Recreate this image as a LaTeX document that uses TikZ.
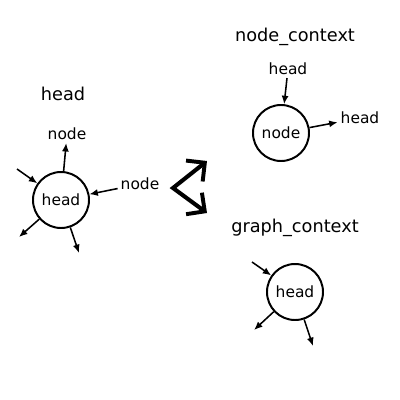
\documentclass[tikz,border=0pt]{standalone}
\usepackage{fontspec}
\setmainfont{DejaVu Sans}
\usetikzlibrary{arrows.meta,positioning}
\definecolor{dark}{HTML}{000000}
\tikzset{
  vertex/.style={circle, draw=dark, line width=1.4pt, minimum size=14mm, inner sep=0pt, font=\fontsize{11}{13}\selectfont},
  label/.style={inner sep=2pt, font=\fontsize{11}{13}\selectfont},
  title/.style={inner sep=0pt, font=\fontsize{12.6}{15}\selectfont},
  edge/.style={-{Latex[length=6pt,width=5pt]}, line width=1.1pt, draw=dark},
  bigarrow/.style={{Straight Barb[length=9.5pt,width=19pt,line width=2.8pt]}-{Straight Barb[length=9.5pt,width=19pt,line width=2.8pt]}, line width=2.9pt, line join=miter, draw=dark}
}
\begin{document}
\begin{tikzpicture}[x=0.25mm, y=-0.25mm]
  \useasboundingbox (0,0) rectangle (400,400);
  % left part: the head with its edges
  \node[title] (t1) at (63,94) {head};
  \node[vertex] (c1) at (61,200) {head};
  \node[label] (n1) at (67,134) {node};
  \node[label] (n2) at (140,184) {node};
  \coordinate (a1) at (17,169);
  \coordinate (a2) at (19,237);
  \coordinate (a3) at (79,253);
  \draw[edge] (c1) -- (n1);
  \draw[edge] (n2) -- (c1);
  \draw[edge] (a1) -- (c1);
  \draw[edge] (c1) -- (a2);
  \draw[edge] (c1) -- (a3);
  % the split into both contexts
  \coordinate (sv) at (173,188);
  \coordinate (st) at (207,161);
  \coordinate (sb) at (207,213);
  \draw[bigarrow] (st) -- (sv) -- (sb);
  % node_context
  \node[title] (t2) at (295,37) {node\_context};
  \node[vertex] (c2) at (281,133) {node};
  \node[label] (h1) at (288,69) {head};
  \node[label] (h2) at (360,118) {head};
  \draw[edge] (h1) -- (c2);
  \draw[edge] (c2) -- (h2);
  % graph_context
  \node[title] (t3) at (295,228) {graph\_context};
  \node[vertex] (c3) at (295,292) {head};
  \coordinate (b1) at (252,262);
  \coordinate (b2) at (254,330);
  \coordinate (b3) at (313,346);
  \draw[edge] (b1) -- (c3);
  \draw[edge] (c3) -- (b2);
  \draw[edge] (c3) -- (b3);
\end{tikzpicture}
\end{document}
